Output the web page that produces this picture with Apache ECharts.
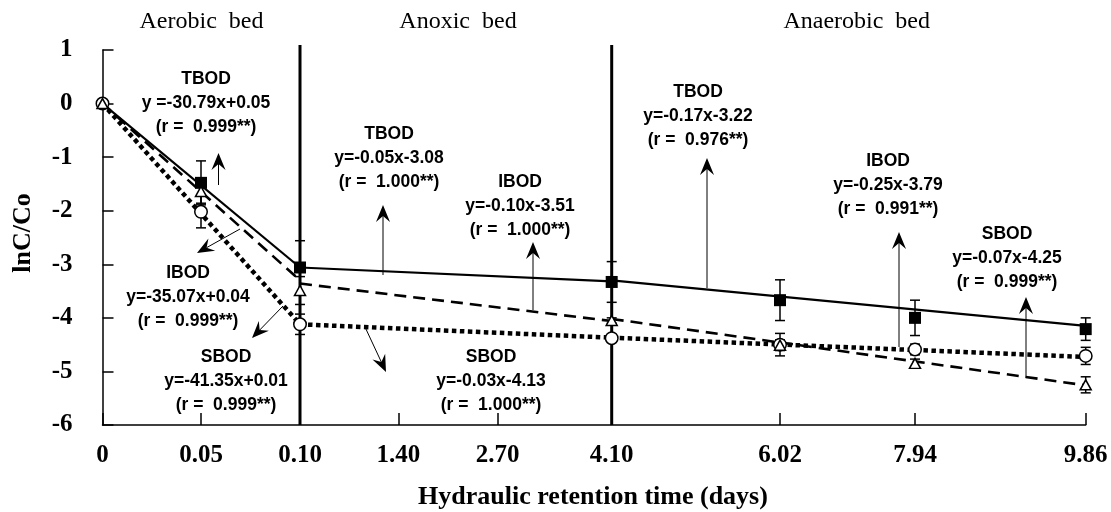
<!DOCTYPE html>
<html><head><meta charset="utf-8">
<script src="https://cdn.jsdelivr.net/npm/echarts@6/dist/echarts.min.js"></script>
<style>html,body{margin:0;padding:0;background:#fff}#c{width:1111px;height:512px}</style>
</head><body><div id="c"></div>
<script>
// ---- data ----
const days = [0, 0.05, 0.10, 4.10, 6.02, 7.94, 9.86];
const tbod = [0, -1.48, -3.06, -3.33, -3.67, -4.00, -4.21];
const tbodErr = [0, 0.41, 0.50, 0.38, 0.38, 0.33, 0.21];
const ibod = [0, -1.64, -3.49, -4.05, -4.51, -4.85, -5.25];
const ibodErr = [0, 0.22, 0.26, 0.05, 0.10, 0.08, 0.15];
const sbod = [0, -2.02, -4.12, -4.38, -4.50, -4.59, -4.71];
const sbodErr = [0, 0.30, 0.19, 0.06, 0.21, 0.10, 0.16];
// bed boundaries (days) and fitted-line values at each bed's start/end
const bedBounds = [0, 0.10, 4.10, 9.86];
const bedNames = ['Aerobic  bed', 'Anoxic  bed', 'Anaerobic  bed'];
const tbodFit = [[0, -3.06], [-3.06, -3.32], [-3.30, -4.15]];
const ibodFit = [[0, -3.30], [-3.36, -4.06], [-4.02, -5.26]];
const sbodFit = [[0, -4.12], [-4.12, -4.37], [-4.37, -4.73]];
const tickDays = [0, 0.05, 0.10, 1.40, 2.70, 4.10, 6.02, 7.94, 9.86];
const tickLabels = ['0', '0.05', '0.10', '1.40', '2.70', '4.10', '6.02', '7.94', '9.86'];
const yMin = -6, yMax = 1, yStep = 1;
const eqTexts = [
  ['TBOD', 'y =-30.79x+0.05', '(r =  0.999**)'],
  ['IBOD', 'y=-35.07x+0.04', '(r =  0.999**)'],
  ['SBOD', 'y=-41.35x+0.01', '(r =  0.999**)'],
  ['TBOD', 'y=-0.05x-3.08', '(r =  1.000**)'],
  ['IBOD', 'y=-0.10x-3.51', '(r =  1.000**)'],
  ['SBOD', 'y=-0.03x-4.13', '(r =  1.000**)'],
  ['TBOD', 'y=-0.17x-3.22', '(r =  0.976**)'],
  ['IBOD', 'y=-0.25x-3.79', '(r =  0.991**)'],
  ['SBOD', 'y=-0.07x-4.25', '(r =  0.999**)']
];

// ---- layout (axis spacing is not proportional in the original) ----
const tickOffset = [0, 98.5, 197.5, 295.8, 395.2, 509.2, 677.5, 812.5, 983.2];
function pos(d) {
  for (let i = 0; i < tickDays.length - 1; i++) {
    if (d >= tickDays[i] && d <= tickDays[i + 1]) {
      const f = (d - tickDays[i]) / (tickDays[i + 1] - tickDays[i]);
      return tickOffset[i] + f * (tickOffset[i + 1] - tickOffset[i]);
    }
  }
  return tickOffset[tickOffset.length - 1];
}
const serif = 'Liberation Serif', sans = 'Liberation Sans';

const chart = echarts.init(document.getElementById('c'), null, {renderer: 'canvas'});

function pts(vals) { return days.map((d, i) => [pos(d), vals[i]]); }
function errs(vals, e) { return days.map((d, i) => [pos(d), vals[i], e[i]]); }

const series = [];
function fitSeries(fit, style) {
  fit.forEach((seg, b) => {
    series.push({
      type: 'line', silent: true, symbol: 'none', z: 2,
      data: [[pos(bedBounds[b]), seg[0]], [pos(bedBounds[b + 1]), seg[1]]],
      lineStyle: Object.assign({color: '#000', opacity: 1}, style)
    });
  });
}
fitSeries(tbodFit, {width: 2.2, type: 'solid'});
fitSeries(ibodFit, {width: 2.6, type: [12, 7]});
fitSeries(sbodFit, {width: 4.5, type: [4.5, 3.5], cap: 'butt'});

function errSeries(vals, e) {
  series.push({
    type: 'custom', silent: true, z: 3,
    data: errs(vals, e),
    renderItem: function (params, api) {
      const x = api.value(0), y = api.value(1), er = api.value(2);
      if (!er) return null;
      const top = api.coord([x, y + er]);
      const bot = api.coord([x, y - er]);
      const w = 5;
      const st = {stroke: '#000', lineWidth: 1.5};
      return {type: 'group', children: [
        {type: 'line', shape: {x1: top[0], y1: top[1], x2: bot[0], y2: bot[1]}, style: st},
        {type: 'line', shape: {x1: top[0] - w, y1: top[1], x2: top[0] + w, y2: top[1]}, style: st},
        {type: 'line', shape: {x1: bot[0] - w, y1: bot[1], x2: bot[0] + w, y2: bot[1]}, style: st}
      ]};
    }
  });
}
errSeries(tbod, tbodErr);
errSeries(ibod, ibodErr);
errSeries(sbod, sbodErr);

// TBOD marker at the origin is hidden under the others in the original
const tbodPts = pts(tbod).map((p, i) => i === 0 ? {value: p, symbol: 'none'} : p);
series.push({name: 'TBOD', type: 'scatter', z: 5, data: tbodPts, symbol: 'rect', symbolSize: 12,
  itemStyle: {color: '#000', opacity: 1}});
series.push({name: 'SBOD', type: 'scatter', z: 6, data: pts(sbod), symbol: 'circle', symbolSize: 12.5,
  itemStyle: {color: '#fff', borderColor: '#000', borderWidth: 1.5, opacity: 1}});
series.push({name: 'IBOD', type: 'scatter', z: 7, data: pts(ibod), symbol: 'triangle', symbolSize: [11, 10],
  itemStyle: {color: '#fff', borderColor: '#000', borderWidth: 1.5, opacity: 1}});

chart.setOption({
  animation: false,
  backgroundColor: '#fff',
  grid: {left: 102.5, right: 25.3, top: 50, bottom: 87, containLabel: false, outerBoundsMode: 'none'},
  xAxis: {
    type: 'value', min: 0, max: tickOffset[tickOffset.length - 1],
    axisLine: {show: true, onZero: false, lineStyle: {color: '#000', width: 1.5}},
    axisTick: {show: true, inside: true, length: 12, customValues: tickOffset, lineStyle: {color: '#000', width: 1.5}},
    axisLabel: {
      customValues: tickOffset, margin: 18, color: '#000', fontFamily: serif, fontWeight: 'bold', fontSize: 25,
      formatter: function (v) {
        for (let i = 0; i < tickOffset.length; i++) if (Math.abs(tickOffset[i] - v) < 0.01) return tickLabels[i];
        return '';
      }
    },
    splitLine: {show: false}
  },
  yAxis: {
    type: 'value', min: yMin, max: yMax, interval: yStep,
    axisLine: {show: true, lineStyle: {color: '#000', width: 1.5}},
    axisTick: {show: true, inside: true, length: 11, lineStyle: {color: '#000', width: 1.5}},
    axisLabel: {margin: 30, color: '#000', fontFamily: serif, fontWeight: 'bold', fontSize: 25},
    splitLine: {show: false}
  },
  series: series
});

// ---- annotations ----
const g = [];
const topPx = 45;
const bottomPx = chart.convertToPixel({yAxisIndex: 0}, yMin);
[bedBounds[1], bedBounds[2]].forEach(d => {
  const x = chart.convertToPixel({xAxisIndex: 0}, pos(d));
  g.push({type: 'line', z: 4, silent: true, shape: {x1: x, y1: topPx, x2: x, y2: bottomPx},
    style: {stroke: '#000', lineWidth: 3}});
});
const bedTitlePos = [[201.5, 22], [458, 22], [856.7, 22]];
bedNames.forEach((t, i) => g.push({type: 'text', silent: true, x: bedTitlePos[i][0], y: bedTitlePos[i][1],
  style: {text: t, fill: '#000', font: '24px "Liberation Serif"', align: 'center', verticalAlign: 'middle'}}));
g.push({type: 'text', silent: true, x: 23, y: 233, rotation: Math.PI / 2,
  style: {text: 'lnC/Co', fill: '#000', font: 'bold 26px "Liberation Serif"', align: 'center', verticalAlign: 'middle'}});
g.push({type: 'text', silent: true, x: 593, y: 497,
  style: {text: 'Hydraulic retention time (days)', fill: '#000', font: 'bold 26px "Liberation Serif"', align: 'center', verticalAlign: 'middle'}});

const eqPos = [[206, 79], [188, 273], [226, 357], [389, 134], [520, 182], [491, 357], [698, 92], [888, 161], [1007, 234]];
eqTexts.forEach((lines, i) => g.push({type: 'text', silent: true, x: eqPos[i][0], y: eqPos[i][1] - 12,
  style: {text: lines.join('\n'), fill: '#000', font: 'bold 17.5px "Liberation Sans"', lineHeight: 24,
    align: 'center', verticalAlign: 'top'}}));

const arrows = [
  [218.5, 185, 218.5, 153], [240, 229, 197, 253], [283, 306, 252, 338],
  [383, 275, 383, 205], [533, 310, 533, 242], [365, 327, 386, 372],
  [707, 288, 707, 158], [899, 347, 899, 232], [1026, 378, 1026, 297]
];
arrows.forEach(a => {
  const [x1, y1, x2, y2] = a;
  const dx = x2 - x1, dy = y2 - y1, L = Math.hypot(dx, dy);
  const ux = dx / L, uy = dy / L, px = -uy, py = ux;
  const len = 17, hw = 7, notch = 11;
  const bx = x2 - ux * len, by = y2 - uy * len;
  const nx = x2 - ux * notch, ny = y2 - uy * notch;
  g.push({type: 'line', silent: true, z: 8, shape: {x1: x1, y1: y1, x2: nx, y2: ny}, style: {stroke: '#000', lineWidth: 1}});
  g.push({type: 'polygon', silent: true, z: 8, shape: {points: [[x2, y2], [bx + px * hw, by + py * hw], [nx, ny], [bx - px * hw, by - py * hw]]},
    style: {fill: '#000'}});
});
chart.setOption({graphic: g});
</script></body></html>
